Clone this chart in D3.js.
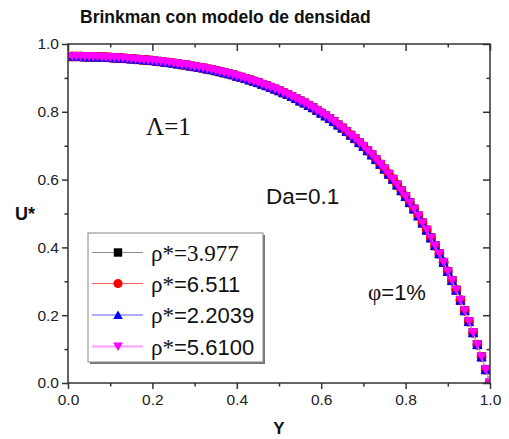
<!DOCTYPE html>
<html>
<head>
<meta charset="utf-8">
<script src="https://cdn.jsdelivr.net/npm/d3@7"></script>
<style>
  body { margin: 0; background: #fff; }
  svg { display: block; }
  text { font-family: "Liberation Sans", Arial, sans-serif; }
</style>
</head>
<body>
<svg id="chart" width="509" height="439"></svg>
<script>
// Position across the channel (Y) for every sampled point
const yPositions = [
  0.00, 0.01, 0.02, 0.03, 0.04, 0.05, 0.06, 0.07, 0.08, 0.09,
  0.10, 0.11, 0.12, 0.13, 0.14, 0.15, 0.16, 0.17, 0.18, 0.19,
  0.20, 0.21, 0.22, 0.23, 0.24, 0.25, 0.26, 0.27, 0.28, 0.29,
  0.30, 0.31, 0.32, 0.33, 0.34, 0.35, 0.36, 0.37, 0.38, 0.39,
  0.40, 0.41, 0.42, 0.43, 0.44, 0.45, 0.46, 0.47, 0.48, 0.49,
  0.50, 0.51, 0.52, 0.53, 0.54, 0.55, 0.56, 0.57, 0.58, 0.59,
  0.60, 0.61, 0.62, 0.63, 0.64, 0.65, 0.66, 0.67, 0.68, 0.69,
  0.70, 0.71, 0.72, 0.73, 0.74, 0.75, 0.76, 0.77, 0.78, 0.79,
  0.80, 0.81, 0.82, 0.83, 0.84, 0.85, 0.86, 0.87, 0.88, 0.89,
  0.90, 0.91, 0.92, 0.93, 0.94, 0.95, 0.96, 0.97, 0.98, 0.99,
  1.00
];

// Dimensionless velocity U* — the four density cases give the same profile
const uProfile = [
  0.963, 0.963, 0.963, 0.963, 0.962, 0.962, 0.962, 0.962, 0.961, 0.961,
  0.960, 0.959, 0.959, 0.958, 0.957, 0.956, 0.955, 0.954, 0.953, 0.952,
  0.951, 0.949, 0.948, 0.946, 0.945, 0.943, 0.941, 0.939, 0.938, 0.935,
  0.933, 0.931, 0.929, 0.926, 0.924, 0.921, 0.918, 0.915, 0.912, 0.909,
  0.905, 0.902, 0.898, 0.894, 0.890, 0.886, 0.881, 0.877, 0.872, 0.867,
  0.862, 0.856, 0.851, 0.845, 0.839, 0.832, 0.826, 0.819, 0.812, 0.804,
  0.796, 0.788, 0.780, 0.771, 0.761, 0.752, 0.742, 0.731, 0.721, 0.709,
  0.698, 0.685, 0.673, 0.659, 0.645, 0.631, 0.616, 0.601, 0.584, 0.567,
  0.550, 0.532, 0.513, 0.493, 0.472, 0.451, 0.428, 0.405, 0.381, 0.356,
  0.329, 0.302, 0.274, 0.244, 0.213, 0.181, 0.148, 0.113, 0.077, 0.039,
  0.000
];

const seriesValues = [uProfile, uProfile, uProfile, uProfile];
const seriesRho = ["3.977", "6.511", "2.2039", "5.6100"];
const seriesColors = ["#000000", "#ff0000", "#0000ff", "#ff00ff"];
const seriesLineColors = ["#8c8c8c", "#ff5a5a", "#5a5aff", "#ff9cff"];
const seriesSymbols = ["square", "circle", "triangleUp", "triangleDown"];

const xTickValues = [0, 0.2, 0.4, 0.6, 0.8, 1.0];
const xMinorTicks = [0.1, 0.3, 0.5, 0.7, 0.9];
const yTickValues = [0, 0.2, 0.4, 0.6, 0.8, 1.0];
const yMinorTicks = [0.1, 0.3, 0.5, 0.7, 0.9];

const svg = d3.select("#chart");
svg.append("rect").attr("width", 509).attr("height", 439).attr("fill", "#fff");

const plot = { left: 68, right: 490, top: 44, bottom: 383 };
const x = d3.scaleLinear().domain([0, 1]).range([plot.left, plot.right]);
const y = d3.scaleLinear().domain([0, 1]).range([plot.bottom, plot.top]);

const axisColor = "#333";
const serif = "'Liberation Serif', 'Times New Roman', serif";

// Marker shapes
function symbolPath(kind, s) {
  if (kind === "square") return `M${-s},${-s}H${s}V${s}H${-s}Z`;
  if (kind === "circle") return d3.arc()({innerRadius: 0, outerRadius: s * 1.1, startAngle: 0, endAngle: 2 * Math.PI});
  if (kind === "triangleUp") return `M0,${-s * 1.05}L${s * 1.15},${s * 0.95}L${-s * 1.15},${s * 0.95}Z`;
  return `M0,${s * 1.05}L${s * 1.15},${-s * 0.95}L${-s * 1.15},${-s * 0.95}Z`;
}

// Clip area for the data
svg.append("defs").append("clipPath").attr("id", "plotClip")
  .append("rect")
  .attr("x", plot.left).attr("y", plot.top)
  .attr("width", plot.right - plot.left).attr("height", plot.bottom - plot.top);

const dataLayer = svg.append("g").attr("clip-path", "url(#plotClip)");
const line = d3.line().x(d => x(d[0])).y(d => y(d[1]));

seriesValues.forEach((vals, i) => {
  const pts = yPositions.map((p, j) => [p, vals[j]]);
  const g = dataLayer.append("g");
  g.append("path").datum(pts).attr("d", line)
    .attr("fill", "none").attr("stroke", seriesLineColors[i]).attr("stroke-width", 1);
  g.selectAll("path.m").data(pts).join("path").attr("class", "m")
    .attr("transform", d => `translate(${x(d[0])},${y(d[1])})`)
    .attr("d", symbolPath(seriesSymbols[i], 4.5))
    .attr("fill", seriesColors[i]);
});

// Axes
function styleAxis(g) {
  g.select(".domain").remove();
  g.selectAll(".tick line").attr("stroke", axisColor).attr("stroke-width", 1.5);
  g.selectAll(".tick text").attr("fill", "#222")
    .style("font-family", "'Liberation Sans', Arial, sans-serif").style("font-size", "15.5px");
}
const fmt = d3.format(".1f");

svg.append("g").attr("transform", `translate(0,${plot.bottom})`)
  .call(d3.axisBottom(x).tickValues(xTickValues).tickSize(6).tickPadding(5).tickFormat(fmt))
  .call(styleAxis);
svg.append("g").attr("transform", `translate(0,${plot.bottom})`)
  .call(d3.axisBottom(x).tickValues(xMinorTicks).tickSize(3.5).tickFormat(""))
  .call(styleAxis);
svg.append("g").attr("transform", `translate(0,${plot.top})`)
  .call(d3.axisBottom(x).tickValues(xTickValues).tickSize(7).tickFormat(""))
  .call(styleAxis);
svg.append("g").attr("transform", `translate(0,${plot.top})`)
  .call(d3.axisBottom(x).tickValues(xMinorTicks).tickSize(3.5).tickFormat(""))
  .call(styleAxis);

svg.append("g").attr("transform", `translate(${plot.left},0)`)
  .call(d3.axisLeft(y).tickValues(yTickValues).tickSize(6).tickPadding(3).tickFormat(fmt))
  .call(styleAxis);
svg.append("g").attr("transform", `translate(${plot.left},0)`)
  .call(d3.axisLeft(y).tickValues(yMinorTicks).tickSize(3.5).tickFormat(""))
  .call(styleAxis);
svg.append("g").attr("transform", `translate(${plot.right},0)`)
  .call(d3.axisLeft(y).tickValues(yTickValues).tickSize(7).tickFormat(""))
  .call(styleAxis);
svg.append("g").attr("transform", `translate(${plot.right},0)`)
  .call(d3.axisLeft(y).tickValues(yMinorTicks).tickSize(3.5).tickFormat(""))
  .call(styleAxis);

// Frame
svg.append("rect")
  .attr("x", plot.left).attr("y", plot.top)
  .attr("width", plot.right - plot.left).attr("height", plot.bottom - plot.top)
  .attr("fill", "none").attr("stroke", axisColor).attr("stroke-width", 1.5);

// Titles
svg.append("text").attr("x", 80).attr("y", 23)
  .style("font-size", "17.5px").style("font-weight", "bold").attr("fill", "#111")
  .text("Brinkman con modelo de densidad");
svg.append("text").attr("x", x(0.5)).attr("y", 434).attr("text-anchor", "middle")
  .style("font-size", "17px").style("font-weight", "bold").attr("fill", "#111")
  .text("Y");
svg.append("text").attr("x", 15).attr("y", 220)
  .style("font-size", "18px").style("font-weight", "bold").attr("fill", "#111")
  .text("U*");

// Annotations
svg.append("text").attr("x", 146).attr("y", 135)
  .style("font-family", serif).style("font-size", "25px")
  .attr("fill", "#111").text("Λ=1");
svg.append("text").attr("x", 266).attr("y", 204)
  .style("font-size", "22.5px").attr("fill", "#111").text("Da=0.1");
const phi = svg.append("text").attr("x", 368).attr("y", 300).style("font-size", "22px").attr("fill", "#111");
phi.append("tspan").style("font-family", serif).style("font-size", "23px").text("φ");
phi.append("tspan").text("=1%");

// Legend
const lg = { x: 88, y: 233, w: 175, h: 129 };
svg.append("rect").attr("x", lg.x + 2).attr("y", lg.y + 2).attr("width", lg.w).attr("height", lg.h)
  .attr("fill", "#777");
svg.append("rect").attr("x", lg.x).attr("y", lg.y).attr("width", lg.w).attr("height", lg.h)
  .attr("fill", "#fff").attr("stroke", "#888").attr("stroke-width", 1);

const rowY = [252.5, 283.5, 315, 346.5];
seriesRho.forEach((rho, i) => {
  const ry = rowY[i];
  svg.append("line").attr("x1", 92).attr("x2", 143).attr("y1", ry).attr("y2", ry)
    .attr("stroke", seriesLineColors[i]).attr("stroke-width", i === 3 ? 2 : 1.2);
  svg.append("path").attr("transform", `translate(118,${ry})`)
    .attr("d", symbolPath(seriesSymbols[i], 4.2)).attr("fill", seriesColors[i]);
  const t = svg.append("text").attr("x", 151).attr("y", ry + 8).attr("fill", "#111").style("font-size", "22px");
  if (i === 0) {
    t.style("font-family", serif).style("font-size", "23px").text("ρ*=" + rho);
  } else {
    t.append("tspan").style("font-family", serif).style("font-size", "23px").text("ρ*");
    t.append("tspan").text("=" + rho);
  }
});
</script>
</body>
</html>
